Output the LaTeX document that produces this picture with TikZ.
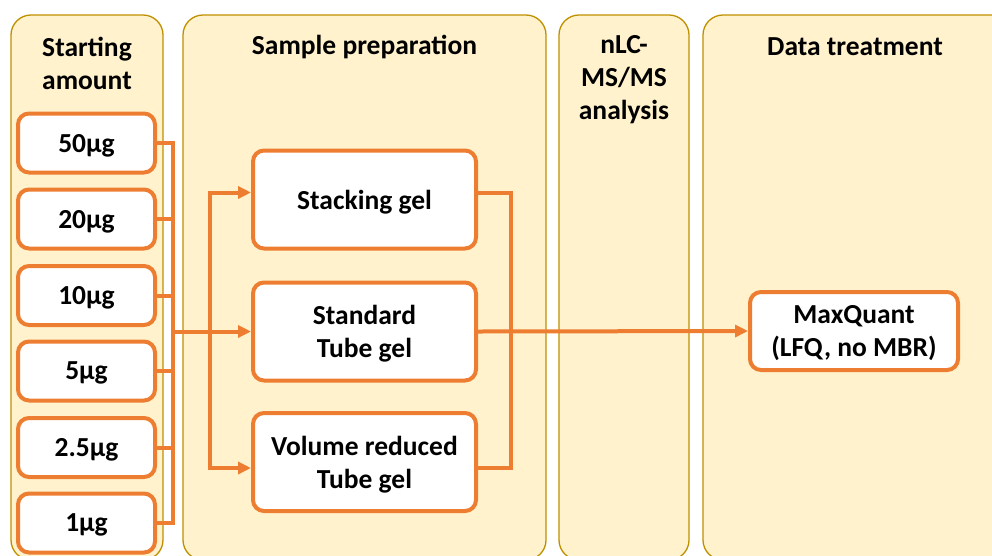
\documentclass[tikz,border=0pt]{standalone}
\usepackage{fontspec}
\setmainfont{Carlito}
\usetikzlibrary{arrows.meta}
\definecolor{panelfill}{HTML}{FFF2CC}
\definecolor{paneldraw}{HTML}{BF9000}
\definecolor{accent}{HTML}{ED7D31}
\tikzset{
  panel/.style={draw=paneldraw, fill=panelfill, line width=1.3pt, rounded corners=20pt, inner sep=0pt},
  title/.style={font=\fontsize{27.5}{33}\selectfont\bfseries, align=center, inner sep=0pt},
  stepbox/.style={draw=accent, fill=white, line width=4pt, rounded corners=11pt, inner sep=0pt,
    font=\fontsize{27.5}{33}\selectfont\bfseries, align=center, text depth=0pt},
  amount/.style={stepbox, minimum width=137pt, minimum height=59pt},
  prep/.style={stepbox, minimum width=223pt, minimum height=98pt},
  wire/.style={draw=accent, line width=4pt},
  arr/.style={wire, -{Triangle[length=13pt,width=12pt]}}
}
\begin{document}
\begin{tikzpicture}[x=1pt,y=-1pt]
\useasboundingbox (0,0) rectangle (992,555);
\clip (0,0) rectangle (992,555);
\fill[white] (0,0) rectangle (992,555);
% panels
\node[panel, minimum width=152pt, minimum height=545pt] (p1) at (87,287.5) {};
\node[panel, minimum width=363pt, minimum height=545pt] (p2) at (364.5,287.5) {};
\node[panel, minimum width=130pt, minimum height=545pt] (p3) at (624,287.5) {};
\node[panel, minimum width=320pt, minimum height=545pt] (p4) at (863,287.5) {};
% titles
\node[title] (t1) at (87,63) {Starting\\amount};
\node[title] (t2) at (364.5,46.5) {Sample preparation};
\node[title] (t3) at (624,79.5) {nLC-\\MS/MS\\analysis};
\node[title] (t4) at (855,46.5) {Data treatment};
% amounts
\node[amount] (b50) at (86.5,143) {50µg};
\node[amount] (b20) at (86.5,219) {20µg};
\node[amount] (b10) at (86.5,295.5) {10µg};
\node[amount] (b5) at (86.5,371) {5µg};
\node[amount] (b25) at (86.5,447.5) {2.5µg};
\node[amount] (b1) at (86.5,523) {1µg};
% preparation
\node[prep] (stack) at (364.5,199.5) {Stacking gel};
\node[prep] (std) at (364.5,331.5) {Standard\\Tube gel};
\node[prep] (vol) at (364.5,462) {Volume reduced\\Tube gel};
% data
\node[stepbox, minimum width=208pt, minimum height=78pt] (mq) at (854,331) {MaxQuant\\(LFQ, no MBR)};
% helper coordinates
\coordinate (busx) at (173,0);
\coordinate (splitx) at (210,0);
\coordinate (rx) at (511,0);
% left bus
\draw[wire] (b50.east) -- (b50.east -| busx) -- (b1.east -| busx) -- (b1.east);
\draw[wire] (b20.east) -- (b20.east -| busx);
\draw[wire] (b10.east) -- (b10.east -| busx);
\draw[wire] (b5.east) -- (b5.east -| busx);
\draw[wire] (b25.east) -- (b25.east -| busx);
\draw[arr] (std.west -| busx) -- (std.west);
\draw[arr] (std.west -| splitx) |- ([yshift=7pt]stack.west);
\draw[arr] (std.west -| splitx) |- ([yshift=-6pt]vol.west);
% right bracket
\draw[wire] ([yshift=7pt]stack.east) -- ([yshift=7pt]stack.east -| rx) -- ([yshift=-6pt]vol.east -| rx) -- ([yshift=-6pt]vol.east);
\draw[arr] (std.east) -- (mq.west);
\end{tikzpicture}
\end{document}
